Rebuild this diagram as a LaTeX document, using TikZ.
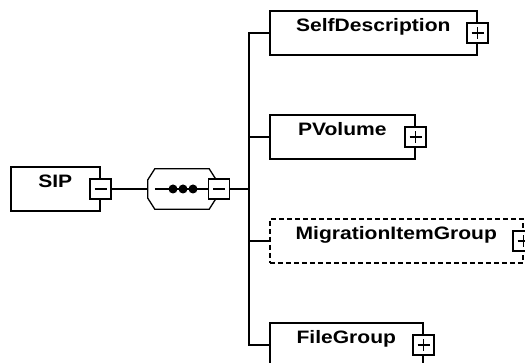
\documentclass[tikz,border=0pt]{standalone}
\usepackage{fontspec}
\newfontfamily\boxfont{Liberation Sans}[FakeStretch=1.17]

\tikzset{
  elem/.style={draw, line width=1.6pt, inner sep=0pt, anchor=west,
    text height=21pt, text depth=23pt,
    font={\boxfont\bfseries\fontsize{18}{20}\selectfont}},
  optelem/.style={elem, dash pattern=on 5pt off 3pt},
  pbox/.style={draw, solid, fill=white, line width=1.3pt, inner sep=0pt,
    minimum width=21pt, minimum height=20pt},
  plusbox/.style={pbox, path picture={
    \draw[line width=1.5pt] ([xshift=-6pt]path picture bounding box.center) -- ([xshift=6pt]path picture bounding box.center)
      ([yshift=-6pt]path picture bounding box.center) -- ([yshift=6pt]path picture bounding box.center);}},
  minusbox/.style={pbox, path picture={
    \draw[line width=1.5pt] ([xshift=-6pt]path picture bounding box.center) -- ([xshift=6pt]path picture bounding box.center);}},
  seqdot/.style={circle, fill=black, inner sep=0pt, minimum size=9pt},
  conn/.style={line width=1.3pt}
}

\begin{document}
\begin{tikzpicture}[x=1pt, y=-1pt]
        \clip (0,0) rectangle (525,363);
        \useasboundingbox (0,0) rectangle (525,363);

        % root element
        \node[elem, minimum width=89pt] (sip) at (10, 189) {SIP};
        \node[minusbox] (sipm) at (sip.east) {};

        % sequence compositor
        \node[minimum width=68pt, minimum height=40pt, inner sep=0pt] (seq) at (182, 189) {};
        \draw[conn] ([xshift=7pt]seq.north west) -- ([xshift=-7pt]seq.north east) -- ([yshift=-11pt]seq.north east)
            -- ([yshift=11pt]seq.south east) -- ([xshift=-7pt]seq.south east) -- ([xshift=7pt]seq.south west)
            -- ([yshift=11pt]seq.south west) -- ([yshift=-11pt]seq.north west) -- cycle;
        \node[minusbox] (seqm) at (219, 189) {};
        \coordinate (seqin) at ([xshift=7pt]seq.west);
        \draw[conn] (seqin) -- (seqm);
        \node[seqdot] (d1) at (173, 189) {};
        \node[seqdot] (d2) at (183, 189) {};
        \node[seqdot] (d3) at (193, 189) {};

        % children
        \node[elem, minimum width=207pt] (self) at (269, 33) {SelfDescription};
        \node[elem, minimum width=145pt] (pvol) at (269, 137) {PVolume};
        \node[optelem, minimum width=253pt] (mig) at (269, 241) {MigrationItemGroup};
        \node[elem, minimum width=153pt] (file) at (269, 345) {FileGroup};
        \node[plusbox] (selfp) at (self.east) {};
        \node[plusbox] (pvolp) at (pvol.east) {};
        \node[plusbox] (migp) at (mig.east) {};
        \node[plusbox] (filep) at (file.east) {};

        \coordinate (bus) at (249, 189);

        \draw[conn] (sipm) -- (seq.west);
        \draw[conn] (seqm) -- (bus);
        \draw[conn] (self.west) -| (bus) |- (file.west);
        \draw[conn] (pvol.west) -| (bus);
        \draw[conn] (mig.west) -| (bus);
\end{tikzpicture}
\end{document}
